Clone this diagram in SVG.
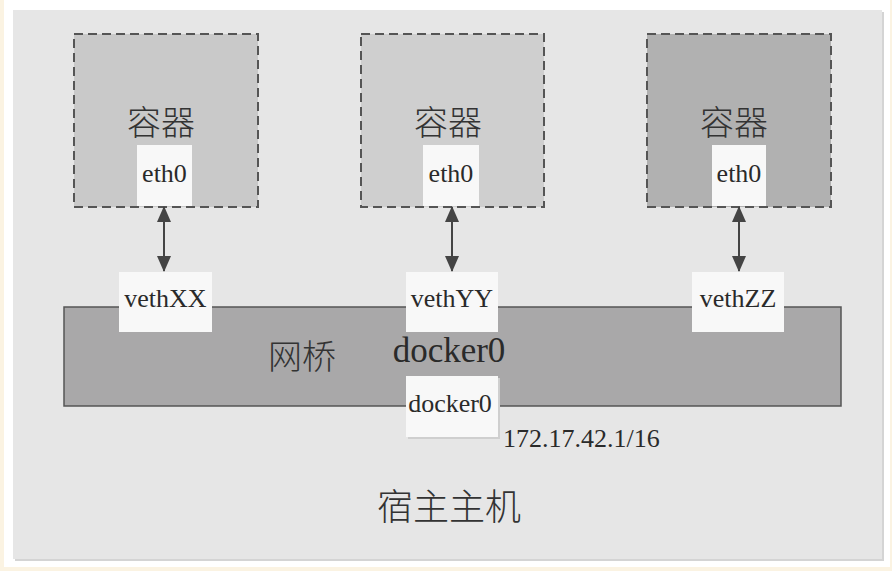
<svg xmlns="http://www.w3.org/2000/svg" width="892" height="571" viewBox="0 0 892 571">
<defs>
<style>
.ctr{stroke:#555;stroke-width:2;stroke-dasharray:9,5}
.port{fill:#f8f8f8}
.t{font-family:"Liberation Serif","Noto Sans CJK SC",serif;fill:#2a2a2a}
.cjk{font-family:"Noto Sans CJK SC",sans-serif;fill:#333;font-weight:300}
.conn{stroke:#444;stroke-width:2;fill:none}
</style>
<marker id="ah2" viewBox="0 0 16 14" refX="15" refY="7" markerWidth="16" markerHeight="14" markerUnits="userSpaceOnUse" orient="auto-start-reverse">
<path d="M0,0 L16,7 L0,14 Z" fill="#444"/>
</marker>
</defs>
<rect x="0" y="0" width="892" height="571" fill="#fbf3e2"/>
<rect x="4" y="0" width="886" height="567" fill="#ffffff"/>
<g id="host">
<rect x="15" y="12" width="869" height="549" fill="#d4d4d4"/>
<rect x="13" y="10" width="869" height="549" fill="#e6e6e6"/>
<text class="cjk" x="449" y="520" font-size="36" text-anchor="middle">宿主主机</text>
</g>
<g id="container1">
<rect class="ctr" x="74" y="34" width="184" height="173" fill="#c9c9c9"/>
<text class="cjk" x="161" y="135" font-size="34" text-anchor="middle">容器</text>
<rect class="port" x="137" y="145" width="55" height="61"/>
<text class="t" x="164.5" y="182" font-size="26" text-anchor="middle">eth0</text>
</g>
<g id="container2">
<rect class="ctr" x="361" y="34" width="183" height="173" fill="#cfcfcf"/>
<text class="cjk" x="448" y="135" font-size="34" text-anchor="middle">容器</text>
<rect class="port" x="423" y="145" width="56" height="61"/>
<text class="t" x="451" y="182" font-size="26" text-anchor="middle">eth0</text>
</g>
<g id="container3">
<rect class="ctr" x="647" y="34" width="184" height="173" fill="#b1b1b1"/>
<text class="cjk" x="734" y="135" font-size="34" text-anchor="middle">容器</text>
<rect class="port" x="712" y="145" width="54" height="61"/>
<text class="t" x="739" y="182" font-size="26" text-anchor="middle">eth0</text>
</g>
<g id="bridge">
<rect x="64" y="307" width="777" height="99" fill="#a9a8a9" stroke="#555" stroke-width="1.5"/>
<text class="cjk" x="302" y="369" font-size="34" text-anchor="middle">网桥</text>
<text class="t" x="449" y="362" font-size="35" text-anchor="middle">docker0</text>
</g>
<g id="vethXX">
<rect class="port" x="119" y="272" width="93" height="60"/>
<text class="t" x="165.5" y="307" font-size="26" text-anchor="middle">vethXX</text>
</g>
<g id="vethYY">
<rect class="port" x="406" y="272" width="92" height="60"/>
<text class="t" x="452" y="307" font-size="26" text-anchor="middle">vethYY</text>
</g>
<g id="vethZZ">
<rect class="port" x="692" y="272" width="92" height="60"/>
<text class="t" x="738" y="307" font-size="26" text-anchor="middle">vethZZ</text>
</g>
<g id="docker0">
<rect x="408" y="378" width="92" height="61" fill="#cfcfcf"/>
<rect class="port" x="406" y="376" width="92" height="61"/>
<text class="t" x="450" y="412" font-size="26" text-anchor="middle">docker0</text>
<text class="t" x="503" y="447" font-size="26">172.17.42.1/16</text>
</g>
<g id="connectors">
<line class="conn" x1="164" y1="207" x2="164" y2="271" marker-start="url(#ah2)" marker-end="url(#ah2)"/>
<line class="conn" x1="452" y1="207" x2="452" y2="271" marker-start="url(#ah2)" marker-end="url(#ah2)"/>
<line class="conn" x1="739" y1="207" x2="739" y2="271" marker-start="url(#ah2)" marker-end="url(#ah2)"/>
</g>
</svg>
